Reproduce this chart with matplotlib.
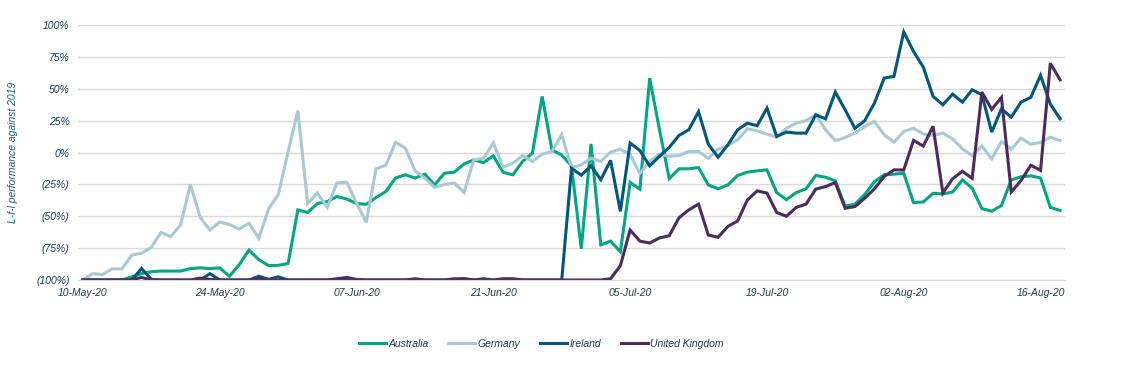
import numpy as np
import pandas as pd
import matplotlib
matplotlib.use("Agg")
import matplotlib.pyplot as plt
import matplotlib.dates as mdates
from matplotlib.ticker import FuncFormatter

# daily values, 10-May-20 .. 18-Aug-20
dates = pd.date_range("2020-05-10", "2020-08-18", freq="D")

australia = [
    -100, -100, -100, -100, -100, -97.5, -95, -93.5, -93, -93,
    -93, -91, -90.5, -91, -90.5, -97, -88, -76.5, -84, -88.7,
    -88.5, -87, -45, -47, -40, -38.5, -34.5, -36.5, -40, -40.6,
    -35.3, -30.6, -20, -17.5, -20, -17, -25.4, -16.2, -15.4, -9,
    -5.8, -7.9, -2.6, -15.5, -17.5, -7, -0.5, 44, 2, -2,
    -10.5, -75.5, 6.7, -72.5, -69.5, -77.8, -23.5, -28.7, 58.3, 18,
    -20.5, -12.8, -12.8, -11.8, -25.4, -28.5, -25.4, -18, -15.4, -14.4,
    -13.6, -31.4, -37, -31.4, -28.5, -18, -19.4, -22.3, -42, -40.6,
    -33, -22.8, -17.5, -17, -16.2, -39.3, -38.8, -32, -32.5, -31,
    -21.5, -28, -44, -46, -41.6, -21.5, -19, -18.3, -20, -43,
    -45.5,
]

germany = [
    -100, -95, -95.7, -91.3, -91.3, -80.4, -79, -74.4, -62.6, -66,
    -56.9, -25, -50.8, -60.8, -54.5, -56.5, -60, -55.5, -67.3, -44.3,
    -32.8, 0.7, 32.8, -40, -31.8, -43, -23.8, -23.3, -39.5, -54.7,
    -12.8, -10, 8, 3.4, -14.4, -20, -27.5, -25, -24, -31.4,
    -5.8, -4.5, 7.5, -11.5, -8.4, -2.4, -7, -1.3, 0.8, 14,
    -12, -9.7, -4.5, -7, 0.3, 2.6, -1.5, -16.5, -7, -1.3,
    -3, -2.4, 0.8, 0.8, -4.5, 2.6, 5.5, 10, 18.6, 17,
    14.4, 12, 19, 23, 25, 29.6, 17.8, 9.2, 11.8, 15.2,
    20.4, 24.3, 13.9, 8.1, 16.5, 19, 14.5, 13.4, 15.2, 10.7,
    2.9, -2.4, 5.2, -5, 8.6, 2.6, 11.3, 6.5, 7.9, 12,
    9.4,
]

ireland = [
    -100, -100, -100, -100, -100, -100, -91, -99.5, -100, -100,
    -100, -100, -100, -95, -100, -100, -100, -100, -97, -99.5,
    -97.5, -100, -100, -100, -100, -100, -100, -100, -100, -100,
    -100, -100, -100, -100, -100, -100, -100, -100, -100, -99,
    -100, -99, -100, -100, -100, -100, -100, -100, -100, -100,
    -12.4, -17.8, -10.5, -21.3, -6.2, -46.2, 7.5, 1.5, -10.5, -3,
    4, 13.4, 17.8, 32, 6.5, -3.7, 6, 17.8, 23, 21,
    34.8, 12.6, 16, 15.2, 15.2, 29.6, 26.4, 47.4, 33.5, 19,
    24.9, 38.7, 58.4, 59.7, 94.5, 79.3, 67, 44, 37.4, 45.8,
    39.5, 49.2, 45.3, 16, 34.3, 27.7, 39.5, 43.2, 60.5, 38,
    26.4,
]

uk = [
    -100, -100, -100, -100, -100, -100, -98, -100, -100, -100,
    -100, -100, -98.5, -99.5, -100, -100, -100, -100, -99, -100,
    -100, -100, -100, -100, -100, -100, -99, -98, -99.5, -100,
    -100, -100, -100, -100, -99, -100, -100, -100, -99, -99,
    -100, -100, -100, -99, -99, -100, -100, -100, -100, -100,
    -100, -100, -100, -100, -99, -88.8, -60.8, -69.5, -71, -67,
    -65.3, -51.2, -45, -40.5, -64.7, -66.5, -58, -53.7, -37.2, -30.1,
    -31.8, -47, -50, -43, -40.5, -28.7, -26.7, -23.6, -43.7, -42.4,
    -35.9, -28.5, -18.8, -13.6, -13.7, 9.5, 5, 20.6, -31.7, -20.6,
    -14.7, -20.3, 47.4, 33.8, 43.2, -31, -22, -10, -14, 70,
    57,
]

series_names = ["Australia", "Germany", "Ireland", "United Kingdom"]
series_colors = ["#00A77F", "#A8C8D4", "#00577D", "#4E2A5E"]

plt.rcParams['font.family'] = ['Liberation Sans', 'DejaVu Sans']
text_color = "#1F3B4D"

fig = plt.figure(figsize=(11.32, 3.84), dpi=100)
ax = fig.add_axes([0.0689, 0.2708, 0.8719, 0.6641])

for vals, name, col in zip([australia, germany, ireland, uk], series_names, series_colors):
    ax.plot(dates, vals, color=col, lw=2.2, label=name, solid_joinstyle='miter')

ax.set_ylim(-100, 100)
ax.set_yticks(np.arange(-100, 101, 25))
ax.yaxis.set_major_formatter(FuncFormatter(
    lambda v, p: f"{int(v)}%" if v >= 0 else f"({int(-v)}%)"))
ax.set_xlim(dates[0] - pd.Timedelta(hours=12), dates[-1] + pd.Timedelta(hours=12))
ax.set_xticks(dates[::14])
ax.xaxis.set_major_formatter(mdates.DateFormatter("%d-%b-%y"))

ax.grid(axis='y', color="#D9D9D9", lw=1)
ax.set_axisbelow(True)
for s in ["top", "right", "left"]:
    ax.spines[s].set_visible(False)
ax.spines["bottom"].set_color("#D9D9D9")
ax.tick_params(axis='both', length=0, labelsize=7.5, labelcolor=text_color)
ax.tick_params(axis='x', pad=6)
ax.tick_params(axis='y', pad=6)
for lab in ax.get_xticklabels() + ax.get_yticklabels():
    lab.set_style('italic')

ax.set_ylabel("L-f-l performance against 2019", fontsize=7.5, style='italic',
              color="#1B5E6B", labelpad=13)

leg = fig.legend(loc='center', bbox_to_anchor=(0.478, 0.105), ncol=4, frameon=False,
                 handlelength=2.6, handletextpad=0.2, columnspacing=1.9,
                 prop={'size': 7.5, 'style': 'italic'})
for t in leg.get_texts():
    t.set_color(text_color)

fig.savefig("out.png", dpi=100)
